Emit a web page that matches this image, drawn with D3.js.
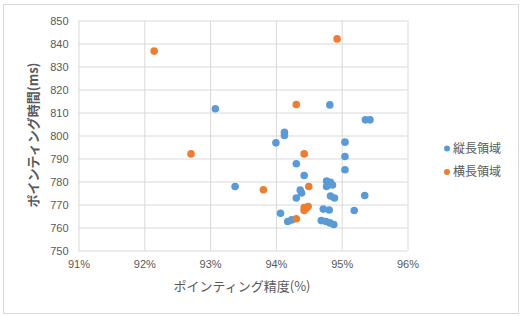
<!DOCTYPE html>
<html>
<head>
<meta charset="utf-8">
<script src="https://cdn.jsdelivr.net/npm/d3@7"></script>
<style>
  body { margin: 0; background: #fff; }
  svg { display: block; font-family: "Noto Sans CJK JP", "Noto Sans", sans-serif; }
</style>
</head>
<body>
<svg id="chart" width="522" height="316"></svg>
<script>
// series names
var seriesNames = ["縦長領域", "横長領域"];

// 縦長領域 : accuracy (%) / time (ms)
var tallX = [93.08, 94.82, 95.36, 95.43, 94.13, 94.13, 94.00, 95.05, 95.05, 95.05,
             94.31, 94.43, 93.38, 94.77, 94.83, 94.77, 94.86, 94.37, 94.39, 94.31,
             94.83, 94.89, 95.35, 95.19, 94.07, 94.18, 94.24, 94.72, 94.81, 94.69,
             94.76, 94.82, 94.88];
var tallY = [811.6, 813.3, 806.8, 806.8, 801.4, 800.0, 796.8, 797.1, 790.9, 785.1,
             787.7, 782.6, 777.8, 780.2, 779.6, 777.8, 778.5, 776.3, 775.0, 772.8,
             773.7, 772.8, 773.9, 767.4, 766.2, 762.6, 763.3, 768.0, 767.6, 763.0,
             762.6, 762.0, 761.3];

// 横長領域
var wideX = [92.15, 92.71, 94.93, 94.31, 94.43, 93.81, 94.50, 94.43, 94.49, 94.43, 94.46, 94.31];
var wideY = [836.7, 792.0, 842.0, 813.5, 792.0, 776.4, 777.8, 768.7, 769.1, 767.4, 768.3, 763.8];

var xTicks = [91, 92, 93, 94, 95, 96];
var yTicks = [750, 760, 770, 780, 790, 800, 810, 820, 830, 840, 850];
var colors = ["#5B9BD5", "#ED7D31"];

var svg = d3.select("#chart");

// chart frame
svg.append("rect")
    .attr("x", 3.5).attr("y", 4.5)
    .attr("width", 515).attr("height", 309)
    .attr("fill", "#fff")
    .attr("stroke", "#D9D9D9");

var xScale = d3.scaleLinear().domain([91, 96]).range([78.5, 407.5]);
var yScale = d3.scaleLinear().domain([750, 850]).range([250.5, 20.5]);

// grid lines
var xAxis = d3.axisBottom(xScale)
    .tickValues(xTicks)
    .tickSize(-230)
    .tickPadding(10)
    .tickFormat(function(d) { return d + "%"; });

var yAxis = d3.axisLeft(yScale)
    .tickValues(yTicks)
    .tickSize(-329)
    .tickPadding(10);

var gx = svg.append("g")
    .attr("transform", "translate(0,250.5)")
    .call(xAxis);
var gy = svg.append("g")
    .attr("transform", "translate(78.5,0)")
    .call(yAxis);

svg.selectAll(".domain").remove();
svg.selectAll(".tick line").attr("stroke", "#D9D9D9");
svg.selectAll(".tick text")
    .attr("fill", "#595959")
    .style("font-size", "11px");

// points
var tall = tallX.map(function(d, i) { return [d, tallY[i]]; });
var wide = wideX.map(function(d, i) { return [d, wideY[i]]; });

[tall, wide].forEach(function(data, k) {
  svg.append("g").selectAll("circle")
    .data(data)
    .enter().append("circle")
    .attr("cx", function(d) { return xScale(d[0]); })
    .attr("cy", function(d) { return yScale(d[1]); })
    .attr("r", 3.8)
    .attr("fill", colors[k]);
});

// axis titles
svg.append("text")
    .attr("transform", "translate(242,291)")
    .style("text-anchor", "middle")
    .style("font-size", "13px")
    .attr("fill", "#595959")
    .text("ポインティング精度(%)");

svg.append("text")
    .attr("transform", "translate(38,135) rotate(-90)")
    .style("text-anchor", "middle")
    .style("font-size", "13px")
    .style("font-weight", "bold")
    .attr("fill", "#595959")
    .text("ポインティング時間(ms)");

// legend
var legend = svg.append("g");
seriesNames.forEach(function(name, i) {
  var y = 148.5 + i * 23.5;
  legend.append("circle")
      .attr("cx", 447).attr("cy", y)
      .attr("r", 3)
      .attr("fill", colors[i]);
  legend.append("text")
      .attr("x", 453).attr("y", y)
      .attr("dy", "0.35em")
      .style("font-size", "12px")
      .attr("fill", "#595959")
      .text(name);
});
</script>
</body>
</html>
